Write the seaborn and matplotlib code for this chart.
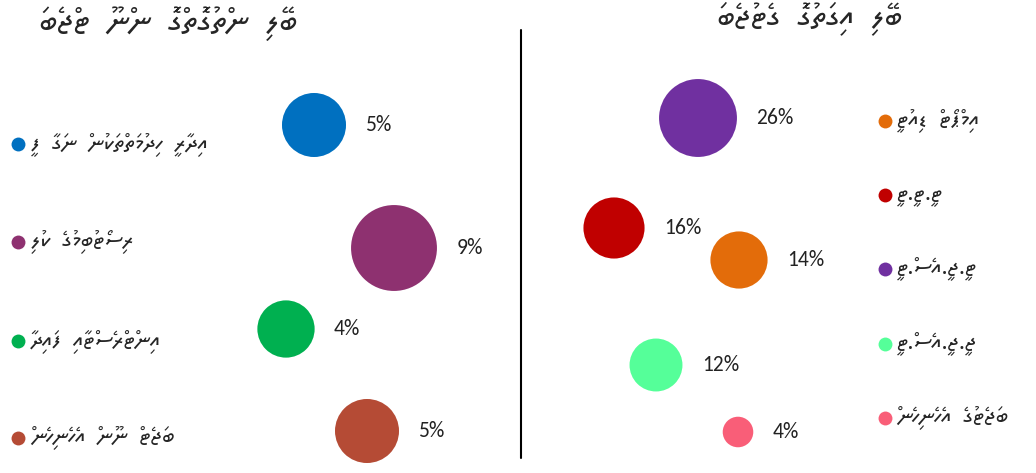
import matplotlib
matplotlib.use("Agg")
import matplotlib.pyplot as plt
import seaborn as sns

# non-budget income (left panel)
left_title = "ބަޖެޓް ނޫން ގޮތްގޮތުން ލިބޭ"
left_labels = ["އިދާރީ ހިދުމަތްތަކުން ނަގާ ފީ", "ރިސޯޓުބިމުގެ ކުލި", "އިންޓްރެސްޓާއި ފައިދާ", "ބަޖެޓް ނޫން އެހެނިހެން"]
left_values = [5, 9, 4, 5]
left_x = [314, 394, 286, 367]
left_y = [125, 248, 329, 431]
left_colors = ["#0070C0", "#8E3170", "#00B050", "#B54B35"]

# budget income (right panel)
right_title = "ބަޖެޓުގެ ގޮތުގައި ލިބޭ"
right_labels = ["އިމްޕޯޓް ޑިއުޓީ", "ޓީ.ޓީ.ޓީ", "ޓީ.ޖީ.އެސް.ޓީ", "ޖީ.ޖީ.އެސް.ޓީ", "ބަޖެޓުގެ އެހެނިހެން"]
right_values = [14, 16, 26, 12, 4]
right_x = [739, 614, 698, 656, 738]
right_y = [260, 228, 118, 365, 432]
right_colors = ["#E36C0A", "#C00000", "#7030A0", "#55FF99", "#F95E78"]

sns.set_style("white")
plt.rcParams["font.family"] = ["Noto Sans Thaana", "DejaVu Sans"]
pct_font = ["Carlito", "Lato", "DejaVu Sans"]


def ltr(s):
    # legend labels read left-to-right in the original picture
    return s[::-1].replace(" ", "  ")


def rtl(s):
    # titles read right-to-left; put each fili before its letter so it
    # lands on the letter once the renderer flips the run
    out = []
    for ch in s:
        if 0x07A6 <= ord(ch) <= 0x07B0 and out:
            out.insert(len(out) - 1, ch)
        else:
            out.append(ch)
    return "".join(out).replace(" ", "  ")


fig = plt.figure(figsize=(10.36, 4.73), dpi=100)
ax = fig.add_axes([0, 0, 1, 1])
ax.set_xlim(0, 1036)
ax.set_ylim(473, 0)
ax.axis("off")


def panel(labels, values, xs, ys, colors, k):
    sizes = [k * v for v in values]
    sns.scatterplot(x=xs, y=ys, hue=labels, palette=colors, s=sizes,
                    legend=False, linewidth=0, ax=ax)
    for x, y, v, s in zip(xs, ys, values, sizes):
        r = s ** 0.5 / 2
        ax.annotate(f"{v}%", (x, y), xytext=(r + 14, 0), textcoords="offset points",
                    va="center", ha="left", fontsize=15.5, family=pct_font, color="#222222")


panel(left_labels, left_values, left_x, left_y, left_colors, 425)
panel(right_labels, right_values, right_x, right_y, right_colors, 121)

# legends drawn by hand
left_leg_y = [144, 242, 341, 438]
right_leg_y = [121, 195, 269, 344, 418]
for lab, c, y in zip(left_labels, left_colors, left_leg_y):
    ax.scatter(18, y, s=100, color=c, linewidth=0)
    ax.text(31, y, ltr(lab), va="center", ha="left", fontsize=16.5)
for lab, c, y in zip(right_labels, right_colors, right_leg_y):
    ax.scatter(885, y, s=100, color=c, linewidth=0)
    ax.text(897, y, ltr(lab), va="center", ha="left", fontsize=16.5)

ax.text(168, 24, rtl(left_title), ha="center", va="center", fontsize=24)
ax.text(810, 18, rtl(right_title), ha="center", va="center", fontsize=23.5)
ax.plot([521, 521], [30, 458], color="black", linewidth=1.5)

fig.savefig("out.png", dpi=100)
